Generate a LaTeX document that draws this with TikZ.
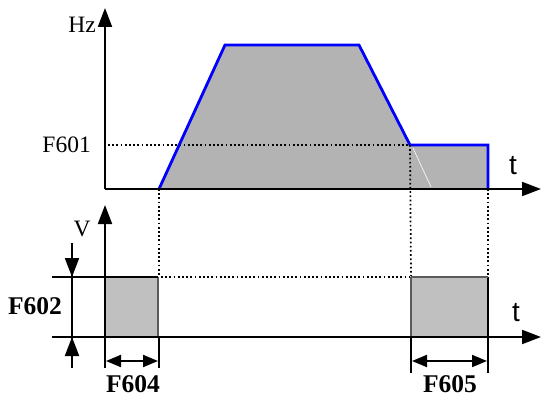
\documentclass[tikz,border=0pt]{standalone}
\usepackage{fontspec}
\setmainfont{Liberation Serif}
\newfontfamily\tfont{Liberation Sans}
\usetikzlibrary{arrows.meta}
\definecolor{fillA}{RGB}{179,179,179}
\definecolor{fillB}{RGB}{192,192,192}
\definecolor{edgeB}{RGB}{90,90,90}
\tikzset{
  axis/.style={line width=2pt, -{Triangle[length=19pt,width=14pt]}},
  plain/.style={line width=2pt},
  dotline/.style={line width=1.7pt, dash pattern=on 1.7pt off 2.5pt},
  curve/.style={draw=blue, line width=2.8pt, line join=miter},
  dim/.style={line width=2pt, {Triangle[length=15pt,width=12pt]}-{Triangle[length=15pt,width=12pt]}},
  dimin/.style={line width=2pt, -{Triangle[length=19pt,width=14pt]}},
  lab/.style={font=\fontsize{23.5}{25}\selectfont, inner sep=0pt},
  blab/.style={font=\fontsize{25.5}{27}\selectfont\bfseries, inner sep=0pt},
  tlab/.style={font=\tfont\fontsize{28}{30}\selectfont, inner sep=0pt}
}
\begin{document}
\begin{tikzpicture}[x=1pt,y=-1pt]
\useasboundingbox (0,0) rectangle (543,398);
% coordinates (image pixels)
\coordinate (O1) at (105,189);
\coordinate (Y1) at (105,8);
\coordinate (X1) at (541,189);
\coordinate (A) at (159,189);
\coordinate (B) at (225,45);
\coordinate (C) at (359,45);
\coordinate (D) at (410,145);
\coordinate (E) at (488,145);
\coordinate (F) at (488,189);
% top shaded area
\fill[fillA] (A) -- (B) -- (C) -- (D) -- (E) -- (F) -- cycle;
\draw[white, line width=0.6pt] (413,148) -- (431,187);
% dotted F601 level
\coordinate (L0) at (108,145);
\coordinate (L1) at (431,145);
\draw[dotline] (L0) -- (L1);
% blue curve
\draw[curve] (A) -- (B) -- (C) -- (D) -- (E) -- (F);
% top axes
\draw[axis] (O1) -- (Y1);
\draw[axis] (O1) -- (X1);
\node[lab, anchor=east] (hz) at (96,25) {Hz};
\node[lab, anchor=east] (f601) at (91,145) {F601};
\node[tlab] (t1) at (513,166) {t};
% bottom graph
\coordinate (P0) at (105,277);
\coordinate (P1) at (158,277);
\coordinate (Q0) at (411,277);
\coordinate (Q1) at (488,277);
\fill[fillB] (105,277) rectangle (158,337);
\fill[fillB] (411,277) rectangle (488,337);
\draw[edgeB, line width=1.2pt] (158,277) -- (158,337);
\draw[edgeB, line width=1.2pt] (411,277) -- (411,337);
\draw[black, line width=1.2pt] (488,277) -- (488,337);
\draw[edgeB, line width=1.6pt] (Q0) -- (Q1);
\draw[plain] (52,277) -- (P1);
% dotted verticals and horizontal
\draw[dotline] (A) -- (159,276);
\draw[dotline] (D) -- (411,276);
\draw[dotline] (F) -- (488,276);
\draw[dotline] (161,277) -- (410,277);
% bottom axes
\coordinate (O2) at (105,338);
\draw[axis] (O2) -- (105,205);
\draw[axis] (52,337) -- (541,337);
\node[lab] (v) at (82,229) {V};
\node[tlab] (t2) at (516,313) {t};
% F602 dimension
\coordinate (G0) at (72,243);
\coordinate (G1) at (72,277);
\coordinate (G2) at (72,337);
\coordinate (G3) at (72,368);
\draw[plain] (G0) -- (G3);
\draw[dimin] (G0) -- (G1);
\draw[dimin] (G3) -- (G2);
\node[blab] (f602) at (35,306) {F602};
% F604
\draw[plain] (105,337) -- (105,368);
\draw[plain] (159,337) -- (159,368);
\draw[dim] (106,361) -- (158,361);
\node[blab] (f604) at (133,384) {F604};
% F605
\draw[plain] (411,337) -- (411,373);
\draw[plain] (488,337) -- (488,373);
\draw[dim] (412,361) -- (487,361);
\node[blab] (f605) at (450,384) {F605};
\end{tikzpicture}
\end{document}
